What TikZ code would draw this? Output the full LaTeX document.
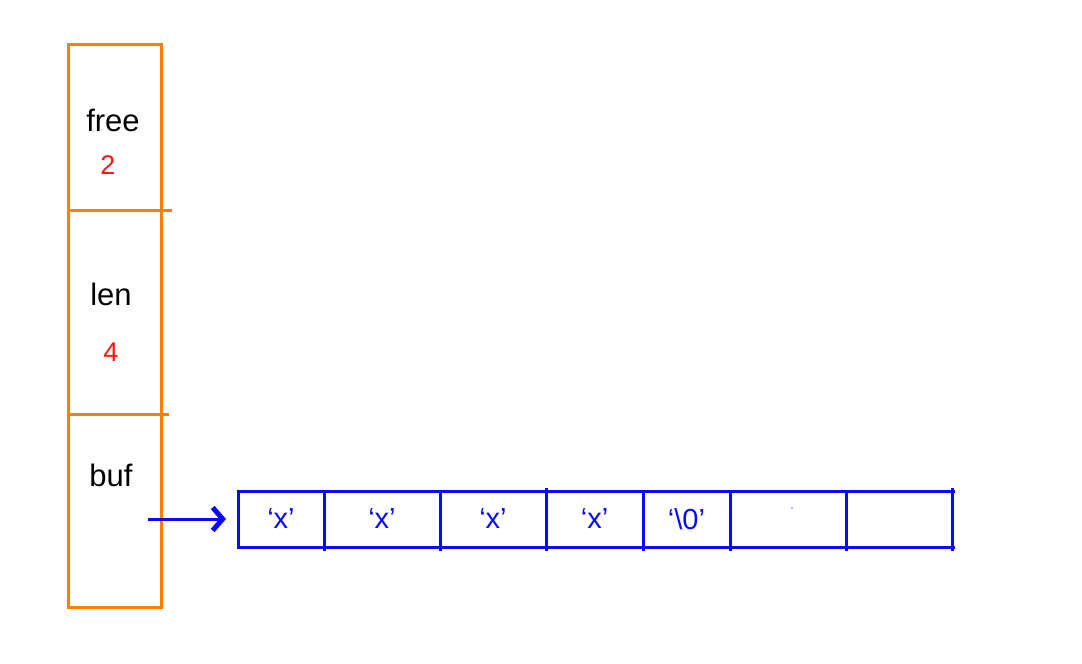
\documentclass[tikz,border=0pt]{standalone}
\usepackage{fontspec}
\setmainfont{Liberation Sans}
\usetikzlibrary{arrows.meta}
\definecolor{boxorange}{RGB}{255,128,0}
\definecolor{arrblue}{RGB}{10,10,245}
\definecolor{valred}{RGB}{255,20,20}
\tikzset{
  every node/.style={outer sep=0pt},
  field/.style={draw=boxorange, line width=1.5pt, minimum width=46.5pt, inner sep=0pt},
  lbl/.style={font=\fontsize{15.5}{18}\selectfont, text=black, inner sep=0pt},
  val/.style={font=\fontsize{13.5}{16}\selectfont, text=valred, inner sep=0pt},
  cell/.style={draw=arrblue, line width=1.5pt, minimum height=28pt, inner sep=0pt, anchor=west,
    text=arrblue, font=\fontsize{14.5}{17}\selectfont},
  ext/.style={draw=arrblue, line width=1.5pt},
  ptr/.style={draw=arrblue, line width=1.5pt, -{Straight Barb[length=5pt,width=11.5pt,line width=2.5pt]}}
}
\begin{document}
\begin{tikzpicture}[x=0.5pt,y=-0.5pt]
\useasboundingbox (0,0) rectangle (1082,664);
% orange structure
\node[field, minimum height=83pt, anchor=north west] (free) at (68,44) {};
\node[field, minimum height=102pt, anchor=north west] (len) at (68,210) {};
\node[field, minimum height=96.5pt, anchor=north west] (buf) at (68,414) {};
\draw[boxorange, line width=1.5pt] (free.south east) -- ++(11,0);
\draw[boxorange, line width=1.5pt] (len.south east) -- ++(8,0);
\node[lbl] (tfree) at (113,120) {free};
\node[val] (vfree) at (108,165) {2};
\node[lbl] (tlen) at (111,294) {len};
\node[val] (vlen) at (111,352) {4};
\node[lbl] (tbuf) at (111,475) {buf};
% array
\node[cell, minimum width=43pt] (c1) at (238,519) {‘x’};
\node[cell, minimum width=58pt] (c2) at (c1.east) {‘x’};
\node[cell, minimum width=53pt] (c3) at (c2.east) {‘x’};
\node[cell, minimum width=48.5pt] (c4) at (c3.east) {‘x’};
\node[cell, minimum width=43.5pt] (c5) at (c4.east) {‘\textbackslash0’};
\node[cell, minimum width=58pt] (c6) at (c5.east) {};
\node[cell, minimum width=53pt] (c7) at (c6.east) {};
% small line extensions
\draw[ext] (c7.north east) -- ++(3,0);
\draw[ext] (c7.south east) -- ++(3,0);
\draw[ext] (c7.north east) -- ++(0,-3);
\foreach \c in {c1,c2,c3,c4,c5,c6,c7} \draw[ext] (\c.south east) -- ++(0,4);
\draw[ext] (c3.north east) -- ++(0,-3);
\fill[arrblue!60] (792,508) circle (0.8);
% pointer
\coordinate (bufptr) at (148,519);
\draw[ptr, shorten >=6pt] (bufptr) -- (c1.west);
\end{tikzpicture}
\end{document}
